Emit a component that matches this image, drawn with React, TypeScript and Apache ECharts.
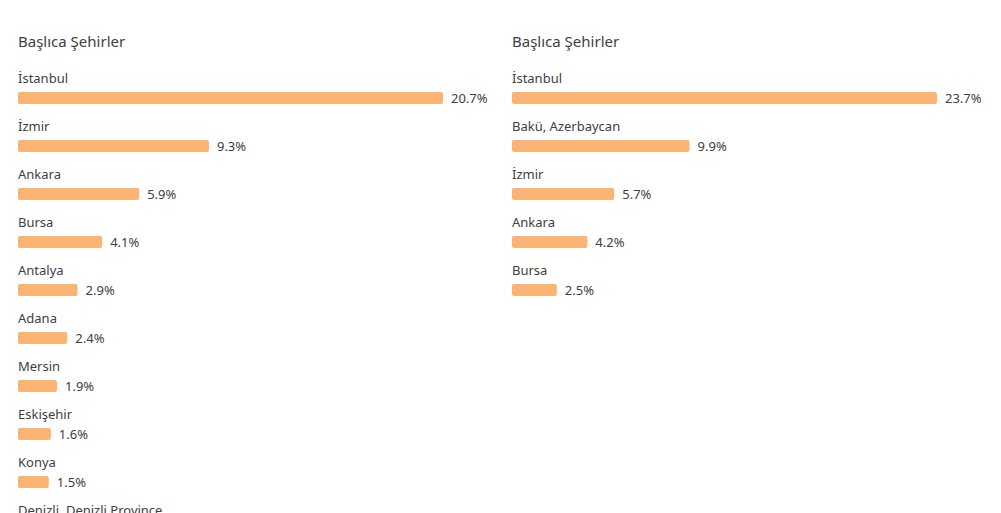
import React, { useEffect, useRef } from "react";
import * as echarts from "echarts";

const titleText = "Başlıca Şehirler";

const leftCities = [
  "İstanbul",
  "İzmir",
  "Ankara",
  "Bursa",
  "Antalya",
  "Adana",
  "Mersin",
  "Eskişehir",
  "Konya",
  "Denizli, Denizli Province",
];
const leftValues = [20.7, 9.3, 5.9, 4.1, 2.9, 2.4, 1.9, 1.6, 1.5, 1.3];

const rightCities = ["İstanbul", "Bakü, Azerbaycan", "İzmir", "Ankara", "Bursa"];
const rightValues = [23.7, 9.9, 5.7, 4.2, 2.5];

const FONT = "'Noto Sans', 'Open Sans', sans-serif";
const BAR_COLOR = "#FAB574";
const TEXT_COLOR = "#404040";
const ROW = 48;

export default function App() {
  const ref = useRef<HTMLDivElement>(null);

  useEffect(() => {
    if (!ref.current) return;
    const chart = echarts.init(ref.current, undefined, { renderer: "svg" });

    const mkY = (idx: number, cats: string[]) => ({
      type: "category" as const,
      gridIndex: idx,
      data: cats,
      inverse: true,
      axisLine: { show: false },
      axisTick: { show: false },
      splitLine: { show: false },
      axisLabel: {
        inside: true,
        margin: 0,
        interval: 0,
        align: "left" as const,
        verticalAlign: "bottom" as const,
        padding: [0, 0, 12, 0],
        lineHeight: 16,
        fontSize: 13,
        fontFamily: FONT,
        color: TEXT_COLOR,
      },
      z: 10,
    });

    const mkX = (idx: number) => ({
      type: "value" as const,
      gridIndex: idx,
      min: 0,
      max: "dataMax" as const,
      show: false,
    });

    const mkSeries = (idx: number, vals: number[]) => ({
      type: "bar" as const,
      xAxisIndex: idx,
      yAxisIndex: idx,
      data: vals,
      barWidth: 12,
      itemStyle: { color: BAR_COLOR, borderRadius: 2 },
      label: {
        show: true,
        position: "right" as const,
        distance: 8,
        formatter: "{c}%",
        fontSize: 13,
        fontFamily: FONT,
        color: TEXT_COLOR,
      },
    });

    const titleStyle = { fontSize: 15, fontWeight: "normal" as const, fontFamily: FONT, color: TEXT_COLOR };

    chart.setOption({
      animation: false,
      backgroundColor: "#ffffff",
      title: [
        { text: titleText, left: 18, top: 33, padding: 0, textStyle: titleStyle },
        { text: titleText, left: 512, top: 33, padding: 0, textStyle: titleStyle },
      ],
      grid: [
        { left: 18, top: 74, width: 425, height: ROW * leftCities.length },
        { left: 512, top: 74, width: 425, height: ROW * rightCities.length },
      ],
      xAxis: [mkX(0), mkX(1)],
      yAxis: [mkY(0, leftCities), mkY(1, rightCities)],
      series: [mkSeries(0, leftValues), mkSeries(1, rightValues)],
    });

    return () => chart.dispose();
  }, []);

  return (
    <div style={{ position: "fixed", left: 0, top: 0, width: 1001, height: 513, overflow: "hidden", background: "#fff" }}>
      <div ref={ref} style={{ width: 1001, height: 580 }} />
    </div>
  );
}
